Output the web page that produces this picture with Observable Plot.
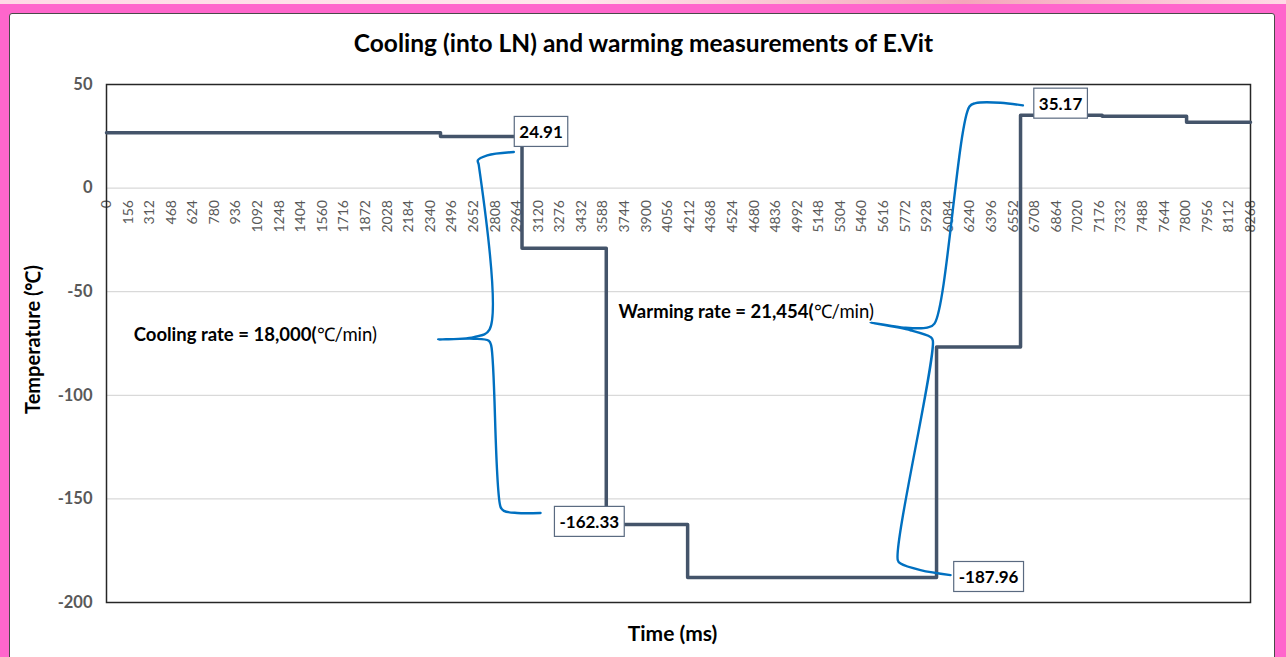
<!DOCTYPE html>
<html>
<head>
<meta charset="utf-8">
<script src="https://cdn.jsdelivr.net/npm/d3@7"></script>
<script src="https://cdn.jsdelivr.net/npm/@observablehq/plot@0.6"></script>
<style>
html, body { margin: 0; padding: 0; overflow: hidden; background: #fff; }
#wrap { position: relative; width: 1286px; height: 657px; background: #ff66cc; overflow: hidden; }
#topstrip { position: absolute; left: 0; top: 0; width: 1286px; height: 4px;
  background: linear-gradient(90deg, #ffd9e6 0%, #ffe6ec 45%, #f5a5bb 75%, #ffd9e6 100%); }
#panel { position: absolute; left: 9px; top: 13px; width: 1264px; height: 660px; background: #fff;
  border: 1px solid #4a4a4a; border-radius: 3px 3px 0 0; }
#chart { position: absolute; left: 0; top: 0; }
</style>
</head>
<body>
<div id="wrap">
  <div id="topstrip"></div>
  <div id="panel"></div>
  <div id="chart"></div>
</div>
<script>
// ---- data ----
const stepTime = [0, 2414, 3003, 3612, 4200, 5999, 6606, 7196, 7806, 8268];
const stepTemp = [26.7, 24.91, -29.0, -162.33, -187.96, -76.7, 35.17, 34.7, 31.8, 31.8];

const xTickLabels = [0, 156, 312, 468, 624, 780, 936, 1092, 1248, 1404, 1560, 1716, 1872, 2028, 2184,
  2340, 2496, 2652, 2808, 2964, 3120, 3276, 3432, 3588, 3744, 3900, 4056, 4212, 4368, 4524, 4680,
  4836, 4992, 5148, 5304, 5460, 5616, 5772, 5928, 6084, 6240, 6396, 6552, 6708, 6864, 7020, 7176,
  7332, 7488, 7644, 7800, 7956, 8112, 8268];
const yTickValues = [50, 0, -50, -100, -150, -200];
const gridValues = [0, -50, -100, -150];

const labelTime = [3003, 3612, 5999, 6606];
const labelTemp = [24.91, -162.33, -187.96, 35.17];
const labelText = ["24.91", "-162.33", "-187.96", "35.17"];

const coolBraceTime = [2944, 2752, 2684, 2691, 2768, 2655, 2397, 2655, 2763, 2780, 2848, 2872, 2968, 3137];
const coolBraceTemp = [17.4, 15.8, 13.4, 11.0, -68.3, -71.9, -73.1, -72.7, -73.7, -75.9, -153.9, -155.8, -156.8, -156.8];

const warmBraceTime = [6623, 6461, 6281, 6237, 5984, 5932, 5775, 5522, 5811, 5956, 5972, 5719, 5739, 5883, 6100];
const warmBraceTemp = [39.9, 41.2, 41.0, 39.4, -65.4, -67.3, -67.4, -64.9, -68.6, -71.9, -73.5, -179.6, -181.2, -184.4, -186.8];

const noteTime = [1518, 5110];
const noteTemp = [-71.1, -60.0];
const noteBold = ["Cooling rate = 18,000(", "Warming rate = 21,454("];
const noteRest = ["\u2103/min)", "\u2103/min)"];

const titleText = "Cooling (into LN) and warming measurements of E.Vit";
const xLabel = "Time (ms)";
const yLabel = "Temperature (\u2103)";

// ---- tables built from the arrays ----
const series = stepTime.map((t, i) => ({time: t, temp: stepTemp[i]}));
const coolBrace = coolBraceTime.map((t, i) => ({time: t, temp: coolBraceTemp[i]}));
const warmBrace = warmBraceTime.map((t, i) => ({time: t, temp: warmBraceTemp[i]}));
const labels = labelTime.map((t, i) => ({time: t, temp: labelTemp[i], text: labelText[i]}));
const notes = noteTime.map((t, i) => ({time: t, temp: noteTemp[i], bold: noteBold[i], rest: noteRest[i]}));

const labelNudge = [[19, -4], [-17, -2], [52, 0], [40, -11]];
const FONT = "Lato, 'Open Sans', sans-serif";

const marks = [
  Plot.ruleY(gridValues, {stroke: "#d9d9d9", strokeWidth: 1.3}),
  Plot.text(xTickLabels, {x: d => d, y: () => 0, text: d => String(d), rotate: -90, textAnchor: "end",
    dy: 12, fontSize: 14, fill: "#595959"}),
  Plot.axisY(yTickValues, {tickSize: 0, tickPadding: 14, fontSize: 16.5, fontWeight: "bold", fill: "#595959",
    tickFormat: d => String(d), label: null}),
  Plot.frame({stroke: "#262626", strokeWidth: 1.5}),
  Plot.line(series, {x: "time", y: "temp", curve: "step-after", stroke: "#44546A", strokeWidth: 3.5, strokeLinejoin: "round"}),
  Plot.line(coolBrace, {x: "time", y: "temp", curve: "catmull-rom", stroke: "#0070C0", strokeWidth: 2.4}),
  Plot.line(warmBrace, {x: "time", y: "temp", curve: "catmull-rom", stroke: "#0070C0", strokeWidth: 2.4}),
  Plot.text(notes, {x: "time", y: "temp", text: "bold", textAnchor: "end", fontSize: 18.5, fontWeight: "bold", fill: "#000"}),
  Plot.text(notes, {x: "time", y: "temp", text: "rest", textAnchor: "start", fontSize: 18.5, fill: "#000"}),
  ...labels.map((d, i) => Plot.text([d], {x: "time", y: "temp", text: "text", dx: labelNudge[i][0], dy: labelNudge[i][1],
    fontSize: 17, fontWeight: "bold", fill: "#000"})),
  Plot.text([titleText], {frameAnchor: "top", text: d => d, dx: -35, dy: -40, lineAnchor: "middle", textAnchor: "middle",
    fontSize: 24.5, fontWeight: "bold", fill: "#000"}),
  Plot.text([xLabel], {frameAnchor: "bottom", text: d => d, dx: -6, dy: 32, lineAnchor: "middle", textAnchor: "middle",
    fontSize: 21, fontWeight: "bold", fill: "#000"}),
  Plot.text([yLabel], {frameAnchor: "left", text: d => d, dx: -73, dy: -4, rotate: -90, lineAnchor: "middle", textAnchor: "middle",
    fontSize: 20, fontWeight: "bold", fill: "#000"})
];

const chart = Plot.plot({
  width: 1286,
  height: 657,
  marginTop: 84,
  marginBottom: 55,
  marginLeft: 106,
  marginRight: 36,
  x: {domain: [0, 8268], axis: null},
  y: {domain: [-200, 50], axis: null},
  style: {background: "transparent", fontFamily: FONT, overflow: "visible"},
  marks
});
document.getElementById("chart").appendChild(chart);

// white boxes behind the value labels
chart.querySelectorAll("text").forEach(t => {
  if (!labelText.includes(t.textContent.trim())) return;
  const bb = t.getBBox();
  const padX = 5, padY = 4.5;
  const r = document.createElementNS("http://www.w3.org/2000/svg", "rect");
  r.setAttribute("x", bb.x - padX);
  r.setAttribute("y", bb.y - padY);
  r.setAttribute("width", bb.width + 2 * padX);
  r.setAttribute("height", bb.height + 2 * padY);
  r.setAttribute("fill", "#fff");
  r.setAttribute("stroke", "#5a6a80");
  r.setAttribute("stroke-width", "1.2");
  const tr = t.getAttribute("transform");
  if (tr) r.setAttribute("transform", tr);
  t.parentNode.insertBefore(r, t);
});
</script>
</body>
</html>
